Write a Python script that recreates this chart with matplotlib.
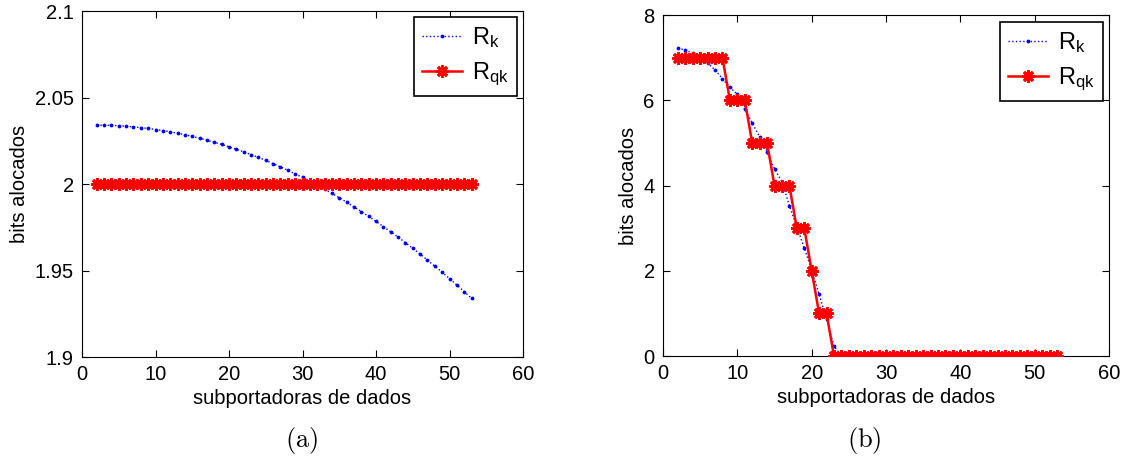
import numpy as np
import matplotlib
matplotlib.use("Agg")
import matplotlib.pyplot as plt

plt.rcParams["font.family"] = ["Liberation Sans", "DejaVu Sans"]
plt.rcParams["mathtext.fontset"] = "custom"
plt.rcParams["mathtext.rm"] = "Liberation Sans"
plt.rcParams["mathtext.it"] = "Liberation Sans"

# (a) subportadoras 2..53
x_a = list(range(2, 54))
rk_a = [2.0340, 2.0340, 2.0339, 2.0337, 2.0334, 2.0330, 2.0326, 2.0321, 2.0315, 2.0309,
        2.0302, 2.0293, 2.0285, 2.0275, 2.0265, 2.0253, 2.0241, 2.0229, 2.0215, 2.0201,
        2.0186, 2.0170, 2.0154, 2.0136, 2.0118, 2.0099, 2.0080, 2.0059, 2.0038, 2.0016,
        1.9994, 1.9970, 1.9946, 1.9921, 1.9895, 1.9868, 1.9841, 1.9813, 1.9784, 1.9754,
        1.9724, 1.9693, 1.9661, 1.9628, 1.9595, 1.9560, 1.9525, 1.9490, 1.9453, 1.9416,
        1.9378, 1.9339]
rqk_a = [2] * 52

# (b)
x_b = list(range(2, 54))
rk_b = [7.22, 7.18, 7.10, 7.00, 6.88, 6.71, 6.51, 6.30, 6.14, 5.79,
        5.47, 5.14, 4.78, 4.39, 4.09, 3.53, 3.03, 2.54, 2.02, 1.45,
        0.86, 0.23] + [0] * 30
rqk_b = [7, 7, 7, 7, 7, 7, 7, 6, 6, 6,
         5, 5, 5, 4, 4, 4, 3, 3, 2, 1,
         1] + [0] * 31

W, H = 1130, 461
fig = plt.figure(figsize=(W / 100, H / 100), dpi=100)
ax1 = fig.add_axes([82 / W, 1 - 357 / H, 441 / W, 346 / H])
ax2 = fig.add_axes([663 / W, 1 - 356 / H, 446 / W, 341 / H])

lab_k = r"$\mathregular{R_k}$"
lab_qk = r"$\mathregular{R_{qk}}$"

# canto superior direito das legendas, em pixels
leg_corner = {ax1: (517, 17), ax2: (1103, 22)}

for ax, x, rk, rq in [(ax1, x_a, rk_a, rqk_a), (ax2, x_b, rk_b, rqk_b)]:
    ax.plot(x, rk, ":", color="blue", marker=".", markersize=3.5, linewidth=1,
            label=lab_k, zorder=2)
    ax.plot(x, rq, "-", color="red", marker=(8, 2, 0), markersize=9,
            markeredgewidth=2, linewidth=1.8, label=lab_qk, zorder=3)
    ax.set_xlim(0, 60)
    ax.set_xticks(range(0, 61, 10))
    ax.tick_params(direction="in", top=True, right=True, labelsize=14.5,
                   length=5, pad=6)
    ax.set_xlabel("subportadoras de dados", fontsize=14.5, labelpad=3)
    ax.set_ylabel("bits alocados", fontsize=14.5, labelpad=4)
    cx, cy = leg_corner[ax]
    leg = ax.legend(loc="upper right", bbox_to_anchor=(cx / W, 1 - cy / H),
                    bbox_transform=fig.transFigure, fontsize=17, fancybox=False,
                    edgecolor="black", framealpha=1, handlelength=1.7,
                    borderaxespad=0, labelspacing=0.45, borderpad=0.35,
                    handletextpad=0.4)
    leg.get_frame().set_linewidth(1.2)

ax1.set_ylim(1.9, 2.1)
ax1.set_yticks([1.9, 1.95, 2.0, 2.05, 2.1])
ax1.set_yticklabels(["1.9", "1.95", "2", "2.05", "2.1"])
ax2.set_ylim(0, 8)
ax2.set_yticks(range(0, 9, 2))

fig.text(302 / W, 1 - 440 / H, r"$\mathrm{(a)}$", fontsize=19, ha="center",
         va="center", math_fontfamily="cm")
fig.text(864 / W, 1 - 440 / H, r"$\mathrm{(b)}$", fontsize=19, ha="center",
         va="center", math_fontfamily="cm")

fig.savefig("out.png", dpi=100)
